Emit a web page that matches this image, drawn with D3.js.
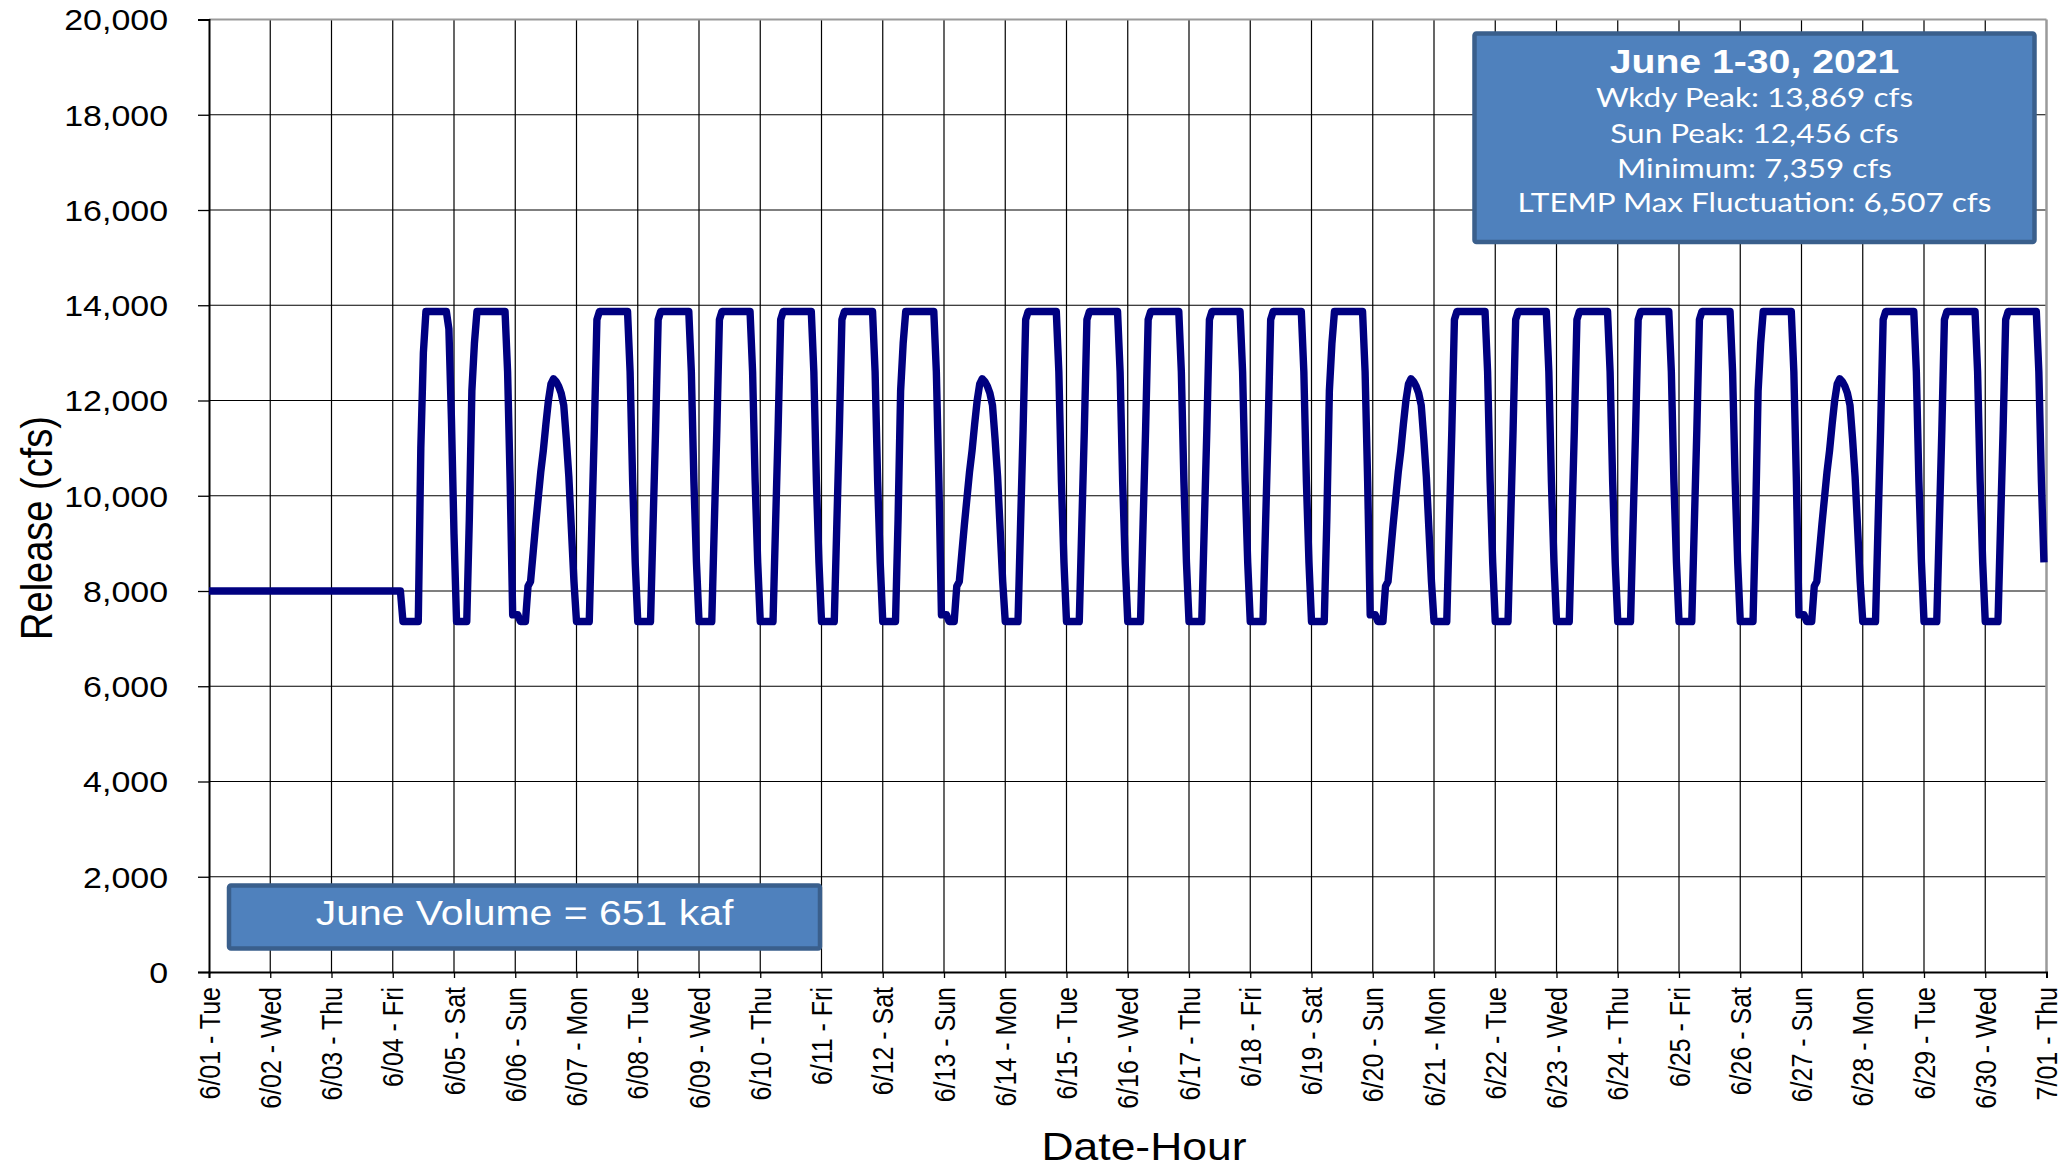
<!DOCTYPE html>
<html><head><meta charset="utf-8">
<script src="https://cdn.jsdelivr.net/npm/d3@7"></script>
<style>body{margin:0;background:#fff}svg{display:block}</style>
</head><body>
<script>
// ---------------- DATA ----------------
const dayLabels = ["6/01 - Tue","6/02 - Wed","6/03 - Thu","6/04 - Fri","6/05 - Sat","6/06 - Sun","6/07 - Mon",
  "6/08 - Tue","6/09 - Wed","6/10 - Thu","6/11 - Fri","6/12 - Sat","6/13 - Sun","6/14 - Mon","6/15 - Tue",
  "6/16 - Wed","6/17 - Thu","6/18 - Fri","6/19 - Sat","6/20 - Sun","6/21 - Mon","6/22 - Tue","6/23 - Wed",
  "6/24 - Thu","6/25 - Fri","6/26 - Sat","6/27 - Sun","6/28 - Mon","6/29 - Tue","6/30 - Wed","7/01 - Thu"];
const yTickValues = [0,2000,4000,6000,8000,10000,12000,14000,16000,18000,20000];

// hourly release (cfs), hours 0..23 of each day type
const flatDay       = [8000,8000,8000,8000,8000,8000,8000,8000,8000,8000,8000,8000,8000,8000,8000,8000,8000,8000,8000,8000,8000,8000,8000,8000];
const firstFriday   = [8000,8000,8000,8000,7359,7359,7359,7359,7359,7359,7359,11000,13000,13869,13869,13869,13869,13869,13869,13869,13869,13869,13500,11600];
const firstSaturday = [9200,7359,7359,7359,7359,7359,9500,12200,13200,13869,13869,13869,13869,13869,13869,13869,13869,13869,13869,13869,13869,12600,10300,7500];
const weekday       = [7359,7359,7359,7359,7359,7359,9400,11400,13700,13869,13869,13869,13869,13869,13869,13869,13869,13869,13869,13869,13869,12600,10300,8600];
const saturday      = [7359,7359,7359,7359,7359,7359,9500,12200,13200,13869,13869,13869,13869,13869,13869,13869,13869,13869,13869,13869,13869,12600,10300,7500];
const sunday        = [7500,7500,7359,7359,7359,8100,8200,8800,9400,9950,10500,10950,11500,12000,12350,12456,12400,12300,12150,11900,11200,10400,9300,8200];
const daySchedule = ["flat","flat","flat","firstFriday","firstSaturday","sunday",
  "weekday","weekday","weekday","weekday","weekday","saturday","sunday",
  "weekday","weekday","weekday","weekday","weekday","saturday","sunday",
  "weekday","weekday","weekday","weekday","weekday","saturday","sunday",
  "weekday","weekday","weekday"];

const summaryTitle = "June 1-30, 2021";
const summaryLines = ["Wkdy Peak: 13,869 cfs","Sun Peak: 12,456 cfs","Minimum: 7,359 cfs","LTEMP Max Fluctuation: 6,507 cfs"];
const volumeNote = "June Volume = 651 kaf";
const xTitle = "Date-Hour";
const yTitle = "Release (cfs)";

// ---------------- BUILD ----------------
const profiles = {flat: flatDay, firstFriday, firstSaturday, weekday, saturday, sunday};
const hourly = daySchedule.flatMap(k => profiles[k]);

const W = 2070, H = 1169;
const L = 209, R = 2046.5, T = 19.5, B = 972;
const SX = 1.17; // horizontal glyph stretch of the reference
const ARIAL = "'Liberation Sans', Arial, sans-serif";

const svg = d3.select("body").append("svg").attr("width", W).attr("height", H);
svg.append("rect").attr("width", W).attr("height", H).attr("fill", "#fff");

const x = d3.scaleLinear().domain([0, dayLabels.length - 1]).range([L, R]);
const xh = d3.scaleLinear().domain([0, (dayLabels.length - 1) * 24]).range([L, R]);
const y = d3.scaleLinear().domain([0, 20000]).range([B, T]);

// grid
const g = svg.append("g");
g.selectAll("line.hg").data(yTickValues.slice(1, -1)).join("line")
  .attr("x1", L).attr("x2", R).attr("y1", d => y(d)).attr("y2", d => y(d))
  .attr("stroke", "#000").attr("stroke-width", 1.2);
g.selectAll("line.vg").data(d3.range(1, dayLabels.length - 1)).join("line")
  .attr("x1", d => x(d)).attr("x2", d => x(d)).attr("y1", T).attr("y2", B)
  .attr("stroke", "#000").attr("stroke-width", 1.2);
// plot border top/right
g.append("line").attr("x1", L).attr("x2", R).attr("y1", T).attr("y2", T).attr("stroke", "#9a9a9a").attr("stroke-width", 2);
g.append("line").attr("x1", R).attr("x2", R).attr("y1", T).attr("y2", B).attr("stroke", "#9a9a9a").attr("stroke-width", 2.5);

// axes
const yAxis = d3.axisLeft(y).tickValues(yTickValues).tickSize(11).tickFormat(d3.format(","));
const ya = svg.append("g").attr("transform", `translate(${L},0)`).call(yAxis);
ya.select(".domain").attr("stroke", "#000").attr("stroke-width", 2);
ya.selectAll(".tick line").attr("stroke", "#000").attr("stroke-width", 1.3);
ya.selectAll(".tick text").remove();
ya.selectAll(".tick").append("text")
  .attr("transform", `translate(-41,10.4) scale(${SX},1)`)
  .attr("text-anchor", "end").attr("fill", "#000")
  .style("font-family", ARIAL).style("font-size", "29px")
  .text(d => d3.format(",")(d));

const xAxis = d3.axisBottom(x).tickValues(d3.range(dayLabels.length)).tickSize(6).tickFormat(i => dayLabels[i]);
const xa = svg.append("g").attr("transform", `translate(0,${B})`).call(xAxis);
xa.select(".domain").attr("stroke", "#000").attr("stroke-width", 2);
xa.selectAll(".tick line").attr("stroke", "#000").attr("stroke-width", 1.3);
xa.selectAll(".tick text").remove();
xa.selectAll(".tick").append("text")
  .attr("transform", `translate(0,15) scale(${SX},1) rotate(-90)`)
  .attr("text-anchor", "end").attr("dy", "0.35em").attr("fill", "#000")
  .style("font-family", ARIAL).style("font-size", "25px")
  .text(i => dayLabels[i]);

// series line
const line = d3.line().x((d, i) => xh(i)).y(d => y(d));
svg.append("path").datum(hourly).attr("d", line)
  .attr("fill", "none").attr("stroke", "#000080").attr("stroke-width", 7.4)
  .attr("stroke-linejoin", "round").attr("stroke-linecap", "butt");

// axis titles
svg.append("text").attr("transform", `translate(1144,1160) scale(${SX},1)`)
  .attr("text-anchor", "middle").style("font-family", ARIAL).style("font-size", "38px").attr("fill", "#000")
  .text(xTitle);
svg.append("text").attr("transform", `translate(52,528) scale(${SX},1) rotate(-90)`)
  .attr("text-anchor", "middle").style("font-family", ARIAL).style("font-size", "38px").attr("fill", "#000")
  .text(yTitle);

// summary box
const BOXFILL = "#4F81BD", BOXSTROKE = "#3A5F8C";
svg.append("rect").attr("x", 1474.5).attr("y", 33.5).attr("width", 560).attr("height", 208.5).attr("rx", 2)
  .attr("fill", BOXFILL).attr("stroke", BOXSTROKE).attr("stroke-width", 4.5);
const cx = 1754.5;
svg.append("text").attr("transform", `translate(${cx},72.7) scale(${SX},1)`)
  .attr("text-anchor", "middle").style("font-family", ARIAL).style("font-weight", "bold").style("font-size", "33.5px")
  .attr("fill", "#fff").text(summaryTitle);
const baseY = [107.3, 142.8, 177.6, 212.3];
const lines = svg.selectAll("text.sl").data(summaryLines).join("text").attr("class", "sl")
  .attr("text-anchor", "middle").style("font-family", "Lato, 'Open Sans', sans-serif").style("font-size", "26px")
  .attr("fill", "#fff").text(d => d);
const longest = lines.filter((d, i) => i === 3).node().getComputedTextLength();
const s2 = 474 / longest;
lines.attr("transform", (d, i) => `translate(${cx},${baseY[i]}) scale(${s2},1)`);

// volume box
svg.append("rect").attr("x", 229).attr("y", 885.5).attr("width", 591).attr("height", 63).attr("rx", 2)
  .attr("fill", BOXFILL).attr("stroke", BOXSTROKE).attr("stroke-width", 4.5);
svg.append("text").attr("transform", `translate(524.5,924.5) scale(${SX},1)`)
  .attr("text-anchor", "middle").style("font-family", ARIAL).style("font-size", "35px")
  .attr("fill", "#fff").text(volumeNote);
</script>
</body></html>
